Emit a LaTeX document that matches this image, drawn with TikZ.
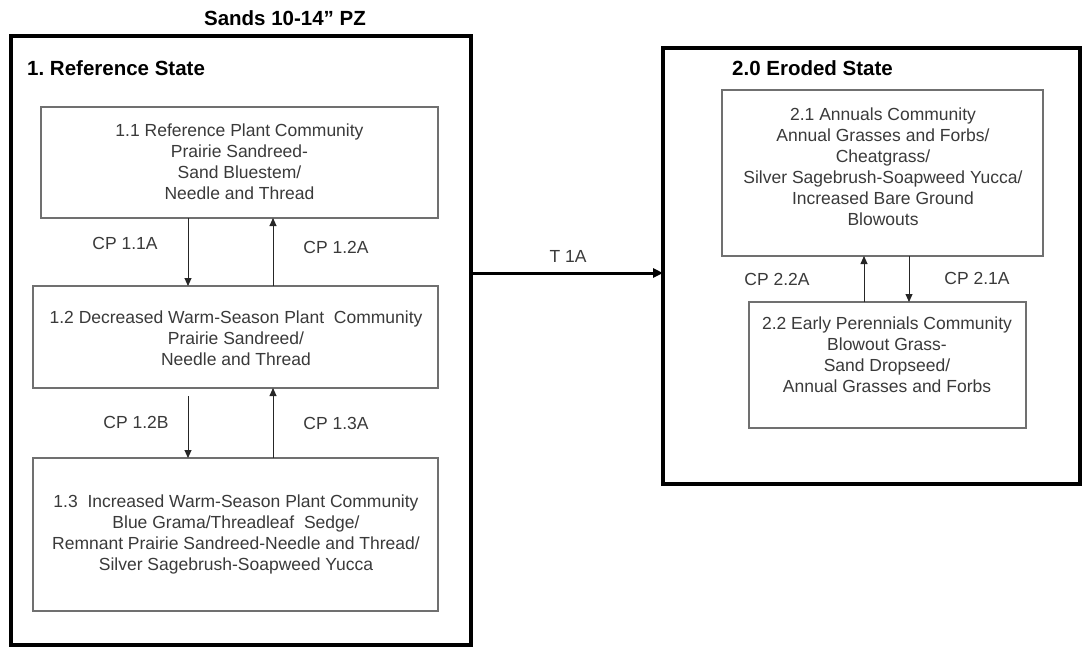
\documentclass[tikz,border=0pt]{standalone}
\usepackage{fontspec}
\setmainfont{Liberation Sans}
\usetikzlibrary{arrows.meta,calc}
\definecolor{textgray}{HTML}{3A3A3A}
\definecolor{boxgray}{HTML}{707070}
\frenchspacing
\begin{document}
\begin{tikzpicture}[x=1pt,y=-1pt,
  statebox/.style={draw=black, line width=3.5pt, outer sep=0pt, inner sep=0pt},
  comm/.style={draw=boxgray, line width=1.3pt, outer sep=0pt, inner sep=0pt},
  txt/.style={align=center, font=\fontsize{17.5}{21}\selectfont, text=textgray, inner sep=0pt},
  lbl/.style={font=\fontsize{17.5}{21}\selectfont, text=textgray, inner sep=0pt},
  head/.style={font=\bfseries\fontsize{20.5}{24}\selectfont, inner sep=0pt},
  cp/.style={-{Triangle[length=8pt,width=7pt]}, line width=0.9pt, draw=black!85},
  tr/.style={-{Triangle[length=10pt,width=9pt]}, line width=3pt, draw=black},
]
\useasboundingbox (0,0) rectangle (1083,649);
\fill[white] (0,0) rectangle (1083,649);

% state boxes
\node[statebox, minimum width=460pt, minimum height=609pt] (s1) at (241,340.5) {};
\node[statebox, minimum width=417pt, minimum height=436pt] (s2) at (871.5,266) {};

% headings
\node[head] (title) at (285,18) {Sands 10-14'' PZ};
\node[head, anchor=west] (h1) at (27,68) {1. Reference State};
\node[head, anchor=west] (h2) at (732,68) {2.0 Eroded State};

% community boxes
\node[comm, minimum width=397pt, minimum height=111pt] (b11) at (239.5,162.5) {};
\node[comm, minimum width=405pt, minimum height=102pt] (b12) at (235.5,337) {};
\node[comm, minimum width=405pt, minimum height=153pt] (b13) at (235.5,534.5) {};
\node[comm, minimum width=321pt, minimum height=166pt] (b21) at (882.5,173) {};
\node[comm, minimum width=277pt, minimum height=126pt] (b22) at (887.5,365) {};

% community texts
\node[txt] (t11) at (239.5,162) {1.1 Reference Plant Community\\Prairie Sandreed-\\Sand Bluestem/\\Needle and Thread};
\node[txt] (t12) at (236,338.5) {1.2 Decreased Warm-Season Plant\ \ Community\\Prairie Sandreed/\\Needle and Thread};
\node[txt] (t13) at (236,534.5) {1.3\ \ Increased Warm-Season Plant Community\\Blue Grama/Threadleaf\ \ Sedge/\\Remnant Prairie Sandreed-Needle and Thread/\\Silver Sagebrush-Soapweed Yucca};
\node[txt] (t21) at (883,166.5) {2.1 Annuals Community\\Annual Grasses and Forbs/\\Cheatgrass/\\Silver Sagebrush-Soapweed Yucca/\\Increased Bare Ground\\Blowouts};
\node[txt] (t22) at (887,354.5) {2.2 Early Perennials Community\\Blowout Grass-\\Sand Dropseed/\\Annual Grasses and Forbs};

% helper coordinates
\coordinate (xL) at (188,0);
\coordinate (xR) at (273,0);
\coordinate (xU) at (864,0);
\coordinate (xD) at (909,0);
\coordinate (yT) at (0,273);

% pathways
\draw[cp] (b11.south -| xL) -- (b12.north -| xL);
\draw[cp] (b12.north -| xR) -- (b11.south -| xR);
\draw[cp] ($(b12.south -| xL)+(0,8)$) -- (b13.north -| xL);
\draw[cp] (b13.north -| xR) -- (b12.south -| xR);
\draw[cp] (b22.north -| xU) -- (b21.south -| xU);
\draw[cp] (b21.south -| xD) -- (b22.north -| xD);

% transition
\draw[tr] (s1.east |- yT) -- (s2.west |- yT);

% labels
\node[lbl] (l11a) at (125,243) {CP 1.1A};
\node[lbl] (l12a) at (336,247) {CP 1.2A};
\node[lbl] (l12b) at (136,422) {CP 1.2B};
\node[lbl] (l13a) at (336,423) {CP 1.3A};
\node[lbl] (l22a) at (777,279) {CP 2.2A};
\node[lbl] (l21a) at (977,278) {CP 2.1A};
\node[lbl] (lt1a) at (568,256) {T 1A};
\end{tikzpicture}
\end{document}
